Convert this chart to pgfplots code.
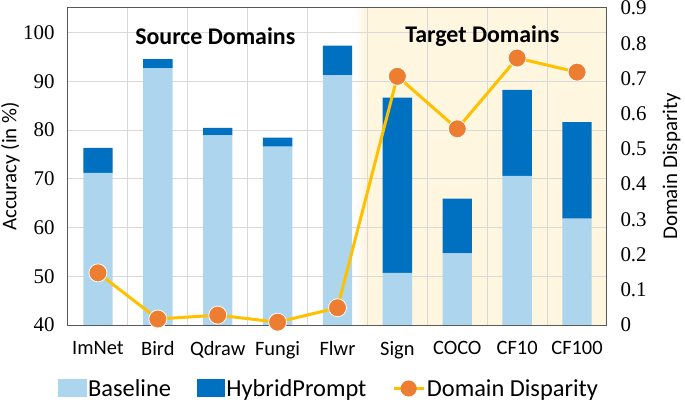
\documentclass[border=0pt]{standalone}
\usepackage{fontspec}
\setmainfont{Carlito}
\newfontfamily\numfont{Liberation Serif}
\usepackage{pgfplots}
\pgfplotsset{compat=1.18}
\definecolor{base}{HTML}{AED5EE}
\definecolor{hyb}{HTML}{0070C0}
\definecolor{gold}{HTML}{FFC000}
\definecolor{orng}{HTML}{ED7D31}
\definecolor{cream}{HTML}{FFF6E0}
\definecolor{gridc}{HTML}{D9D9D9}
\definecolor{framec}{HTML}{595959}
\newcommand{\nf}[1]{\hbox{\numfont #1}}
\begin{document}
\begin{tikzpicture}
\pgfplotsset{every axis/.append style={scale only axis, width=539bp, height=317bp, xmin=-0.5, xmax=8.5,
  /pgf/number format/assume math mode=true,
  major tick length=0pt, minor tick length=0pt}}
% shaded target region
\begin{axis}[hide axis, ymin=40, ymax=105]
\fill[cream] (axis cs:4.45,40) rectangle (axis cs:8.5,105);
\shade[left color=white, right color=cream] (axis cs:4.3,40) rectangle (axis cs:4.45,105);
\end{axis}
% bars
\begin{axis}[
  ymin=40, ymax=105,
  ybar stacked, bar width=0.49,
  xtick={0,1,2,3,4,5,6,7,8},
  xticklabels={ImNet,Bird,Qdraw,Fungi,Flwr,Sign,COCO,CF10,CF100},
  minor xtick={0.5,1.5,2.5,3.5,4.5,5.5,6.5,7.5},
  xminorgrids=true, ymajorgrids=true,
  grid style={draw=gridc, line width=0.8bp},
  minor grid style={draw=gridc, line width=0.8bp},
  ytick={40,50,60,70,80,90,100},
  yticklabels={\nf{40},\nf{50},\nf{60},\nf{70},\nf{80},\nf{90},\nf{100}},
  axis line style={draw=framec, line width=1bp},
  yticklabel style={font=\fontsize{21}{24}\selectfont, xshift=-10bp},
  xticklabel style={font=\fontsize{20.5}{24}\selectfont, yshift=-13bp},
  ylabel={Accuracy (in \%)},
  ylabel style={font=\fontsize{21}{24}\selectfont, at={(axis description cs:-0.107,0.5)}, anchor=center},
  axis on top=false,
]
\addplot[fill=base, draw=none] coordinates {(0,71.2) (1,92.6) (2,78.9) (3,76.6) (4,91.2) (5,50.7) (6,54.7) (7,70.6) (8,61.8)};
\addplot[fill=hyb, draw=none] coordinates {(0,5.1) (1,1.9) (2,1.5) (3,1.8) (4,6.1) (5,35.9) (6,11.2) (7,17.6) (8,19.8)};
\node[font=\bfseries\fontsize{24}{28}\selectfont] at (axis cs:1.96,99.2) {Source Domains};
\node[font=\bfseries\fontsize{24}{28}\selectfont] at (axis cs:6.42,99.2) {Target Domains};
\end{axis}
% disparity
\begin{axis}[
  ymin=0, ymax=0.9,
  axis y line*=right, axis x line=none,
  ytick={0,0.1,0.2,0.3,0.4,0.5,0.6,0.7,0.8,0.9},
  yticklabels={\nf{0},\nf{0.1},\nf{0.2},\nf{0.3},\nf{0.4},\nf{0.5},\nf{0.6},\nf{0.7},\nf{0.8},\nf{0.9}},
  axis line style={draw=framec, line width=1bp},
  yticklabel style={font=\fontsize{21}{24}\selectfont, xshift=10bp},
  ylabel={Domain Disparity},
  ylabel style={font=\fontsize{21}{24}\selectfont, at={(axis description cs:1.12,0.5)}, anchor=center},
  legend columns=3,
  legend style={draw=none, fill=none, at={(0.484,-0.158)}, anchor=north,
    font=\fontsize{24.5}{27}\selectfont,
    /tikz/every even column/.append style={column sep=24bp}},
]
\addlegendimage{legend image code/.code={\fill[base] (0bp,-8bp) rectangle (28bp,9bp);}}
\addlegendentry{Baseline}
\addlegendimage{legend image code/.code={\fill[hyb] (0bp,-8bp) rectangle (27bp,9bp);}}
\addlegendentry{HybridPrompt}
\addplot[gold, line width=3bp, mark=*, mark size=9bp,
  mark options={fill=orng, draw=white, line width=0.8bp},
  legend image code/.code={\draw[gold, line width=2.5bp] (0bp,0bp) -- (30bp,0bp); \fill[orng] (15bp,0bp) circle (6.5bp);}]
  coordinates {(0,0.148) (1,0.017) (2,0.028) (3,0.008) (4,0.049) (5,0.706) (6,0.557) (7,0.758) (8,0.718)};
\addlegendentry{Domain Disparity}
\end{axis}
\pgfresetboundingbox
\path (-68bp,-79bp) rectangle (617bp,325bp);
\end{tikzpicture}
\end{document}
